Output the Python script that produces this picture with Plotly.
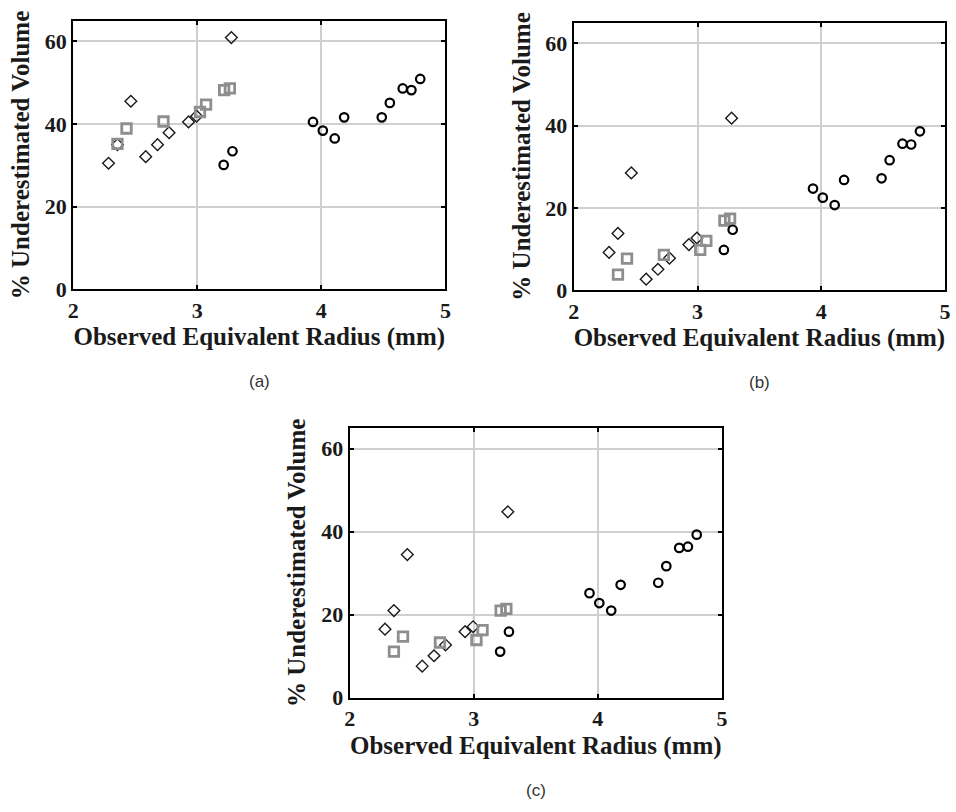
import plotly.graph_objects as go

# ---- data ----
diamond_x = [2.285, 2.357, 2.465, 2.585, 2.68, 2.773, 2.93, 2.995, 3.275]
square_x = [2.357, 2.43, 2.728, 3.022, 3.071, 3.217, 3.263]
circle_x = [3.213, 3.284, 3.933, 4.012, 4.108, 4.184, 4.487, 4.552, 4.656, 4.726, 4.797]

a_diamond_y = [30.5, 35.0, 45.5, 32.1, 35.0, 37.9, 40.5, 41.9, 60.9]
a_square_y = [35.2, 38.9, 40.6, 42.9, 44.7, 48.2, 48.6]
a_circle_y = [30.1, 33.4, 40.5, 38.4, 36.5, 41.6, 41.6, 45.1, 48.6, 48.2, 50.9]

b_diamond_y = [9.2, 13.8, 28.5, 2.7, 5.1, 7.8, 11.1, 12.7, 41.8]
b_square_y = [3.8, 7.7, 8.6, 9.8, 12.0, 16.9, 17.4]
b_circle_y = [9.8, 14.7, 24.7, 22.5, 20.7, 26.8, 27.2, 31.6, 35.6, 35.4, 38.6]

c_diamond_y = [16.5, 21.0, 34.5, 7.6, 10.1, 12.7, 15.9, 17.1, 44.8]
c_square_y = [11.1, 14.7, 13.3, 13.9, 16.3, 21.0, 21.4]
c_circle_y = [11.1, 15.9, 25.2, 22.8, 21.0, 27.2, 27.7, 31.7, 36.1, 36.4, 39.3]

x_ticks = [2, 3, 4, 5]
y_ticks = [0, 20, 40, 60]
x_title = "Observed Equivalent Radius (mm)"
y_title = "% Underestimated Volume"
panel_labels = ["(a)", "(b)", "(c)"]

panels = [
    (a_diamond_y, a_square_y, a_circle_y),
    (b_diamond_y, b_square_y, b_circle_y),
    (c_diamond_y, c_square_y, c_circle_y),
]

W, H = 956, 812
# axis boxes in pixels: (left, right, top, bottom)
boxes = [(68, 445, 21, 294), (575, 951, 23, 295), (348, 725, 435, 709)]

fig = go.Figure()
serif = "Liberation Serif"

for i, (dy, sy, cy) in enumerate(panels):
    sfx = "" if i == 0 else str(i + 1)
    xa, ya = "x" + sfx, "y" + sfx
    fig.add_trace(go.Scatter(x=diamond_x, y=dy, mode="markers", xaxis=xa, yaxis=ya,
                             marker=dict(symbol="diamond-open", size=9, color="#1a1a1a",
                                         line=dict(width=1.4, color="#1a1a1a")),
                             showlegend=False))
    fig.add_trace(go.Scatter(x=square_x, y=sy, mode="markers", xaxis=xa, yaxis=ya,
                             marker=dict(symbol="square-open", size=9.5, color="#8e8e8e",
                                         line=dict(width=2.8, color="#8e8e8e")),
                             showlegend=False))
    fig.add_trace(go.Scatter(x=circle_x, y=cy, mode="markers", xaxis=xa, yaxis=ya,
                             marker=dict(symbol="circle-open", size=8.5, color="black",
                                         line=dict(width=2.2, color="black")),
                             showlegend=False))
    l, r, t, b = boxes[i]
    common = dict(showline=True, linecolor="black", linewidth=2.2, mirror="ticks",
                  ticks="inside", ticklen=4, tickwidth=2, tickcolor="black",
                  showgrid=True, gridcolor="#cfcfcf", gridwidth=1.6, zeroline=False,
                  tickfont=dict(family=serif, size=22, color="#1a1a1a", weight="bold"),
                  title_font=dict(family=serif, size=25, color="#1a1a1a", weight="bold"))
    fig.update_layout(**{
        "xaxis" + sfx: dict(domain=[l / W, r / W], range=[2, 5], tickvals=x_ticks,
                            anchor=ya, title=dict(text=x_title, standoff=6), **common),
        "yaxis" + sfx: dict(domain=[1 - b / H, 1 - t / H], range=[0, 65], tickvals=y_ticks,
                            anchor=xa, title=dict(text=y_title, standoff=8), **common),
    })
    fig.add_annotation(x=(l + r) / 2 / W, y=1 - (b + 94) / H, xref="paper", yref="paper",
                       text=panel_labels[i], showarrow=False, xanchor="center", yanchor="middle",
                       font=dict(family="Liberation Sans", size=17, color="#333333"))

fig.update_layout(width=W, height=H, margin=dict(l=0, r=0, t=0, b=0),
                  paper_bgcolor="white", plot_bgcolor="white")
fig.write_html("out.html")
